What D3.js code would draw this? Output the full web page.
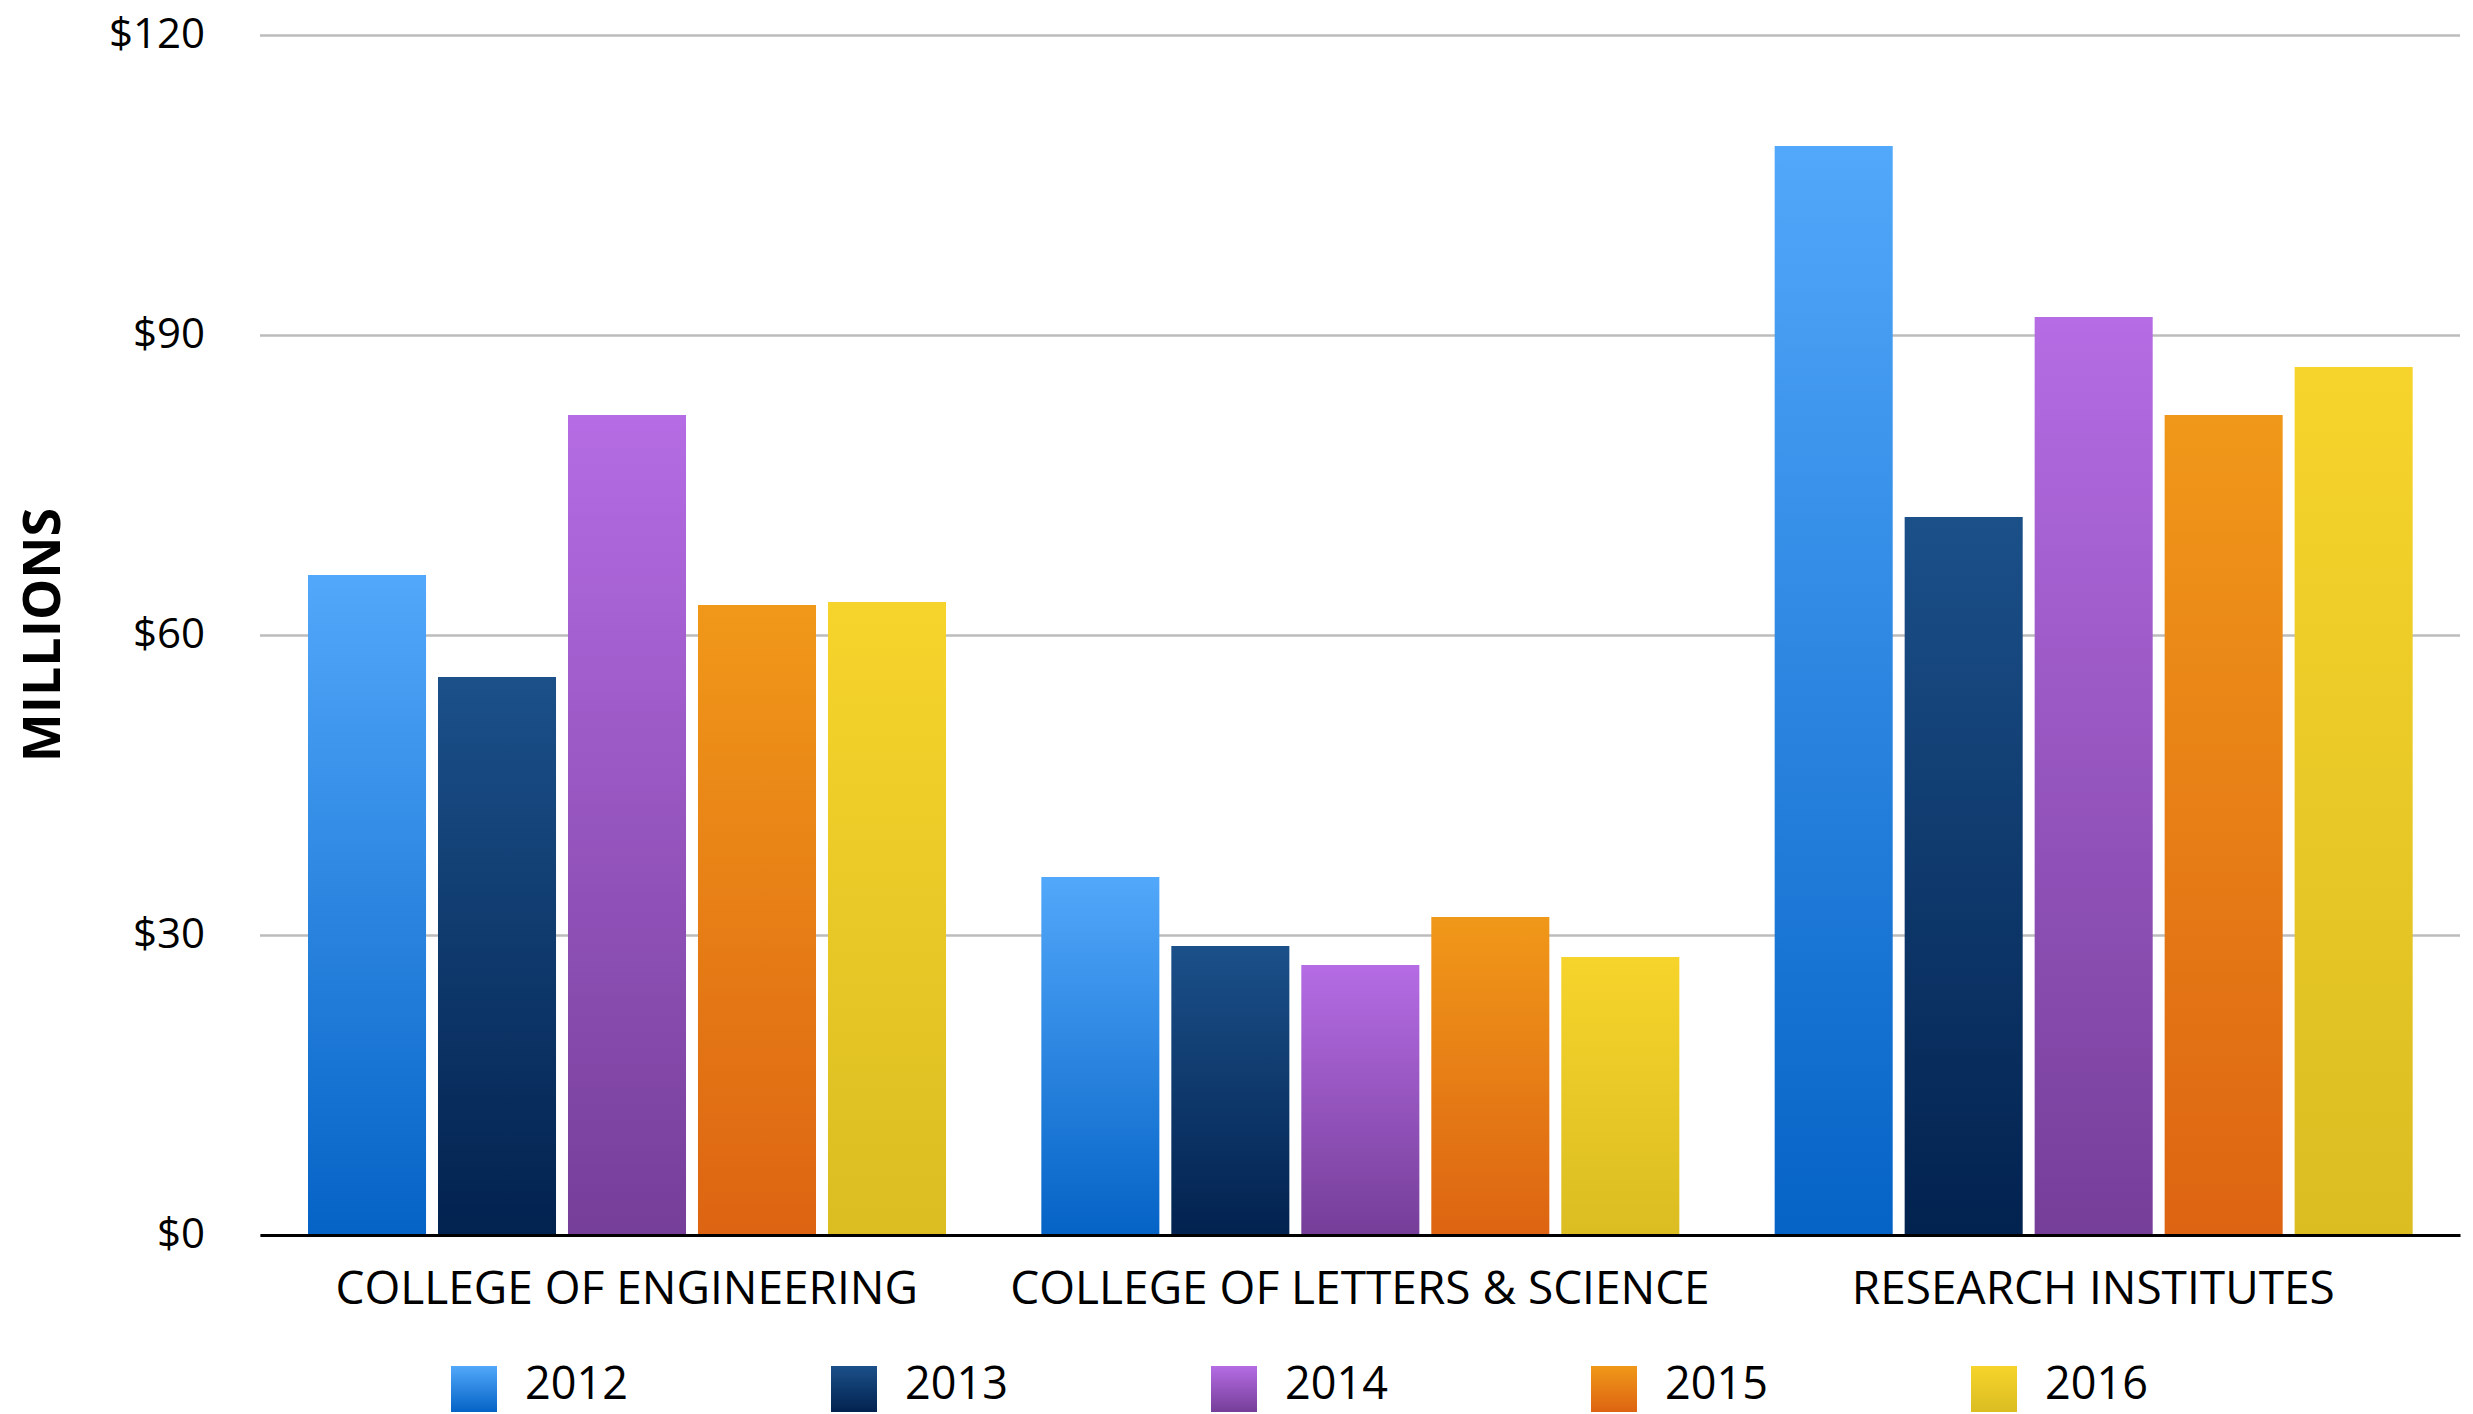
<!DOCTYPE html>
<html>
<head>
<meta charset="utf-8">
<script src="https://cdn.jsdelivr.net/npm/d3@7"></script>
<style>
  body { margin: 0; background: #fff; }
  text { font-family: "Open Sans", "Noto Sans", sans-serif; fill: #000; }
</style>
</head>
<body>
<div id="chart"></div>
<script>
const categories = ["COLLEGE OF ENGINEERING", "COLLEGE OF LETTERS & SCIENCE", "RESEARCH INSTITUTES"];
const years = ["2012", "2013", "2014", "2015", "2016"];
const values2012 = [66.0, 35.8, 108.9];
const values2013 = [55.8, 28.9, 71.8];
const values2014 = [82.0, 27.0, 91.8];
const values2015 = [63.0, 31.8, 82.0];
const values2016 = [63.3, 27.8, 86.8];
const tickValues = [0, 30, 60, 90, 120];

const series = [values2012, values2013, values2014, values2015, values2016];
// top / bottom colours of each year's gradient
const gradColors = {
    "2012": ["#52a8fa", "#0563c6"],
    "2013": ["#1b5089", "#02224f"],
    "2014": ["#b56ce4", "#753e98"],
    "2015": ["#f09819", "#dd6412"],
    "2016": ["#f6d42b", "#dbbd22"]
};

const width = 2473;
const height = 1414;
const margin = { top: 35, bottom: 179, left: 260, right: 13 };

const svg = d3.select('#chart')
    .append('svg')
    .attr('width', width)
    .attr('height', height)
    .attr('viewBox', [0, 0, width, height]);

const defs = svg.append('defs');
years.forEach(yr => {
    const g = defs.append('linearGradient')
        .attr('id', 'g' + yr)
        .attr('x1', 0).attr('y1', 0).attr('x2', 0).attr('y2', 1);
    g.append('stop').attr('offset', '0%').attr('stop-color', gradColors[yr][0]);
    g.append('stop').attr('offset', '100%').attr('stop-color', gradColors[yr][1]);
});

const x0 = d3.scaleBand()
    .domain(categories)
    .range([margin.left, width - margin.right])
    .padding(0);

const x1 = d3.scaleBand()
    .domain(years)
    .range([48, 686])
    .paddingInner(0.092);

const y = d3.scaleLinear()
    .domain([0, 120])
    .range([height - margin.bottom, margin.top]);

// gridlines + tick labels
const yAxis = svg.append('g')
    .attr('transform', `translate(${margin.left},0)`)
    .call(d3.axisLeft(y)
        .tickValues(tickValues)
        .tickSize(-(width - margin.left - margin.right))
        .tickPadding(55)
        .tickFormat(d => '$' + d));
yAxis.select('.domain').remove();
yAxis.selectAll('.tick line')
    .attr('stroke', '#bcbcbc')
    .attr('stroke-width', 2.5);
yAxis.selectAll('.tick text')
    .attr('font-size', 42)
    .attr('font-family', '"Open Sans", sans-serif')
    .attr('fill', '#000')
    .attr('dy', '0.3em');

// bars
const rows = categories.map((c, i) => ({
    category: c,
    bars: years.map((yr, j) => ({ year: yr, value: series[j][i] }))
}));

svg.append('g')
    .selectAll('g')
    .data(rows)
    .join('g')
        .attr('transform', d => `translate(${x0(d.category)},0)`)
    .selectAll('rect')
    .data(d => d.bars)
    .join('rect')
        .attr('x', d => x1(d.year))
        .attr('y', d => y(d.value))
        .attr('width', x1.bandwidth())
        .attr('height', d => y(0) - y(d.value))
        .attr('fill', d => `url(#g${d.year})`);

// baseline + category labels
const xAxis = svg.append('g')
    .attr('transform', `translate(0,${y(0)})`)
    .call(d3.axisBottom(x0).tickSize(0).tickPadding(36));
xAxis.select('.domain')
    .attr('stroke', '#000')
    .attr('stroke-width', 3);
xAxis.selectAll('.tick text')
    .attr('font-size', 46)
    .attr('font-family', '"Open Sans", sans-serif')
    .attr('fill', '#000');

// y title
svg.append('text')
    .attr('transform', `translate(60,${(y(0) + y(120)) / 2}) rotate(-90)`)
    .attr('text-anchor', 'middle')
    .attr('font-size', 52)
    .attr('font-weight', 'bold')
    .text('MILLIONS');

// legend
const legendX = d3.scalePoint()
    .domain(years)
    .range([451, 451 + 4 * 380]);

const legend = svg.append('g')
    .selectAll('g')
    .data(years)
    .join('g')
        .attr('transform', d => `translate(${legendX(d)},1366)`);
legend.append('rect')
    .attr('width', 46)
    .attr('height', 46)
    .attr('fill', d => `url(#g${d})`);
legend.append('text')
    .attr('x', 74)
    .attr('y', 33)
    .attr('font-size', 45)
    .text(d => d);
</script>
</body>
</html>
